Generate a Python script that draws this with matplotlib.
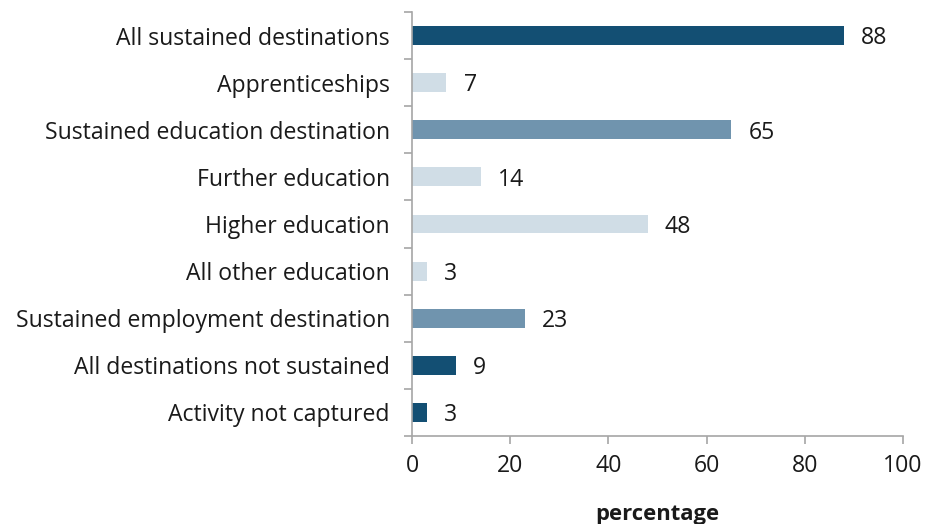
import matplotlib
matplotlib.use("Agg")
import matplotlib.pyplot as plt

categories = ["All sustained destinations", "Apprenticeships", "Sustained education destination",
              "Further education", "Higher education", "All other education",
              "Sustained employment destination", "All destinations not sustained",
              "Activity not captured"]
values = [88, 7, 65, 14, 48, 3, 23, 9, 3]
levels = ["dark", "light", "mid", "light", "light", "light", "mid", "dark", "dark"]
xticks = [0, 20, 40, 60, 80, 100]
xlabel = "percentage"

palette = {"dark": "#134F73", "mid": "#7094AE", "light": "#D0DDE6"}

plt.rcParams['font.family'] = ['Open Sans', 'DejaVu Sans']
FS = 16.6

fig = plt.figure(figsize=(9.26, 5.24), dpi=100)
ax = fig.add_axes([412/926, 1-436/524, (903-412)/926, (436-12)/524])

n = len(categories)
ypos = list(range(n))
ax.barh(ypos, values, height=0.4, color=[palette[l] for l in levels])
ax.set_ylim(n - 0.5, -0.5)
ax.set_xlim(0, 100)
ax.set_yticks([i - 0.5 for i in range(n + 1)], minor=False)
ax.set_yticklabels([])
ax.set_yticks(ypos, minor=True)
ax.set_yticklabels(categories, minor=True, fontsize=FS, color="#1a1a1a")
ax.tick_params(axis='y', which='minor', length=0, pad=16)
ax.tick_params(axis='y', which='major', length=6, color="#A6A6A6", width=1.2)
ax.set_xticks(xticks)
ax.set_xticklabels([str(t) for t in xticks], fontsize=FS, color="#1a1a1a")
ax.tick_params(axis='x', length=6, color="#A6A6A6", width=1.2, pad=7)
for s in ["top", "right"]:
    ax.spines[s].set_visible(False)
for s in ["left", "bottom"]:
    ax.spines[s].set_color("#A6A6A6")
    ax.spines[s].set_linewidth(1.2)
ax.set_xlabel(xlabel, fontsize=15.8, fontweight="bold", labelpad=19, color="#1a1a1a")

for y, v in zip(ypos, values):
    ax.text(v + 3.5, y + 0.06, str(v), va="center", ha="left", fontsize=FS, color="#1a1a1a")

fig.savefig("out.png", dpi=100)
